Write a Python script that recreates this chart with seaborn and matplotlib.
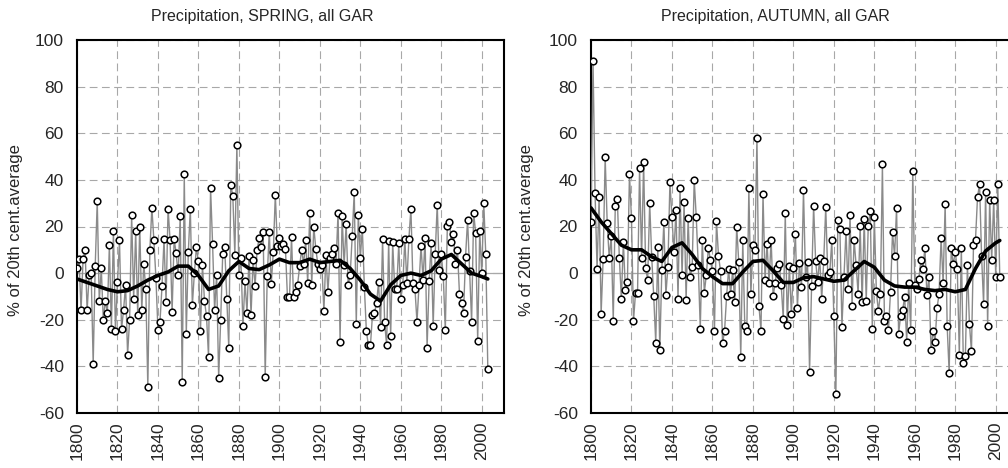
import numpy as np
import pandas as pd
import seaborn as sns
import matplotlib
matplotlib.use("Agg")
import matplotlib.pyplot as plt

# Spring precipitation, % of 20th century average, 1800-2003
spring = [2, 6, -16, 6, 10, -16, -1, 0, -39, 3, 31, -12, 2, -20, -12, -17, 12, -24, 18, -25,
          -4, 14, -24, -16, -5, -35, -20, 25, -11, 18, -18, 20, -16, 4, -7, -49, 10, 28, 14, -2,
          -24.5, -21, -5.7, 14.6, -12.4, 27.7, 14, -16.6, 14.6, 8.5, -1, 24.6, -46.7, 42.4, -26, 9,
          27.7, -13.8, 0, 11, 5, -25, 3.5, -12, -18.5, -36, 36.7, 12.4, -16, -0.7, -44.8, -20, 8,
          11, -11, -32, 38, 33, 7.8, 55, -0.7, 6.7, -22.8, -3.5, -17, 7.5, -18, 5.6,
          -5.7, 10, 15, 11, 17.8, -44.4, -1.4, 17.8, -4.5, 9, 33.7, 11.7, 15, 11.7, 12.4, 10.4,
          -10.4, -10.4, 15.6, -10.4, -8, -5, 3, 10, 4, 14, -4.3, 26, -5, 20, 10.4, 4, 1.8, 3.5,
          -16.4, 7.8, -8, 6.4, 8, 10.7, 4, 26, -29.4, 24.6, 3.3, 21,
          -5, -0.7, 16, 35, -22, 25, 6.7, 19, -6, -25, -31, -31, -18, -17, -13, -4, -23, 14.6, -21,
          -31, 13.8, -27, 13.2, -7, -6.7, 12.8, -11, -5, 14.6, -4.3, 14.6, 27.7, -4.3, -6.7, -21,
          -5.3, 11.8, -2.8, 15, -32, -3.5, 12.8, -22.8, 8, 29.4, 1.4, 8.2, -1.4, -24.6, 20.3, 22,
          13.2, 16.6, 3.8,
          10, -9, -13, -17, 7, 23, 1, -21, 26, 17, -29, 18, 0, 30, 8, -41]

# Autumn precipitation, % of 20th century average, 1800-2002
autumn = [22, 91, 34.5, 1.8, 32.6, -17.5, 6, 49.7, 21.7, 6.5, 16, -20.5, 29, 32, 6.5, -11, 13.3,
          -7.4, -3.8, 42.4, 23.5, -20.5, -8.4, -8.4, 45, 6.5, 47.5, 2.4, -3, 30, 7, -10, -30, 11,
          -33, 1.4, 22,
          -9.4, 2.8, 39, 24.2, 9, 27, -11, 36.4, -1, 30.3, -11.6, 23.5, -1.7, 2.8, 40, 24.2, 3.5,
          -23.8, 14.4, -8.4, -0.7, 10.8, 5.6, 0.7, -24.8, 22.4, 7.4, 1, -30, -24.8, -10, 1.8, -9,
          1.4, -12.6, 20, 4.9, -36, 14, -22.8, -24.8, 36.4, -9, 11.9, 9.8, 58, -14, -25, 34, -2.8,
          12.6, -4.2, 14.4, -10, -4.2, 2.4, 3.8,
          -5.2, -19.6, 25.6, -22.4, 3.2, -17.5, 2, 16.8, -15, 4.2, -6, 35.6, -1.8, 4.9, -42.4, -5.6,
          29, 5.2, -3.8, 6.6, -11.2, 5.2, 28.4, -0.7, 0.4, 14, -18.6, -52, 22.8, 19, -23, -1.8,
          18.2, -6.6, 24.8, -14, 14.4, 3.5, -8.8, 20.3, -12.6, 23.4, -12, 20.3, 26.6, -23.8, 24.2,
          -7.7, -16.4, -8.8, 46.6, -20.5, -18.6, -24.2, -8, 17.5, 7.4,
          28, -26, -18.2, -15.8, -10.2, -29.4, -4.2, -24.5, 43.6, -5.2, -6.6, -2.4, 5.6, 1.8, 10.8,
          -9.4, -1.8, -33, -24.8, -29.4, -15, -8.8, 15, -4.2, 29.8, -22.8, -43, 10.8, 3.8, 9, 1.8,
          -35, 10.8, -38.7, -35.4, 3.5, -21.7, -33.6, 11.9, 14.4, 32.6, 38.2, 7.4, -13.3, 35,
          -22.8, 31.5, 5.6, 31.5, -1.8, 38.2, -1.8]

spring_smooth_years = [1800, 1805, 1810, 1815, 1820, 1825, 1830, 1835, 1840, 1845, 1850, 1855,
                       1860, 1865, 1870, 1875, 1880, 1885, 1890, 1895, 1900, 1905, 1910, 1915,
                       1920, 1925, 1930, 1935, 1940, 1945, 1950, 1955, 1960, 1965, 1970, 1975,
                       1980, 1985, 1990, 1995, 2000, 2003]
spring_smooth = [-2.5, -4, -5.5, -7, -8, -7.5, -5.5, -3, -1, 0.5, 3, 3, -1, -7, -5.5, 1, 5, 2,
                 1.5, 3.5, 6, 4.5, 4.5, 6, 4.5, 5, 5.5, 2, -3, -9, -12, -5, -1, 0, -1, 1, 6, 8,
                 4, 0, -1.5, -2.5]
autumn_smooth_years = [1800, 1805, 1810, 1815, 1820, 1825, 1830, 1835, 1840, 1845, 1850, 1855,
                       1860, 1865, 1870, 1875, 1880, 1885, 1890, 1895, 1900, 1905, 1910, 1915,
                       1920, 1925, 1930, 1935, 1940, 1945, 1950, 1955, 1960, 1965, 1970, 1975,
                       1980, 1985, 1990, 1995, 2000, 2002]
autumn_smooth = [28, 22, 17, 12, 10, 10, 7, 5, 11, 13, 8, 2, -1.5, -4.5, -4.5, 0.5, 5, 5.5, 1,
                 -4, -4, -2, -1.5, -2.5, -3.5, -3, 1, 5, 2.5, -3, -5.5, -6, -6, -7, -7.5, -7, -8,
                 -7, 2, 9.5, 13, 14]

spring_years = list(range(1800, 1800 + len(spring)))
autumn_years = list(range(1800, 1800 + len(autumn)))

sns.set_style("white")
plt.rcParams['font.family'] = ['Liberation Sans', 'DejaVu Sans']
plt.rcParams['axes.unicode_minus'] = False

fig = plt.figure(figsize=(10.08, 4.68), dpi=100)
W, H = 1008, 468
ax1 = fig.add_axes([77 / W, 55 / H, 427 / W, 373 / H])
ax2 = fig.add_axes([591 / W, 55 / H, 427 / W, 373 / H])


def draw(ax, years, vals, sy, sv):
    ax.grid(True, linestyle=(0, (7, 4)), color='#a8a8a8', linewidth=0.8)
    ax.axhline(0, color='#a8a8a8', linewidth=0.9, zorder=1)
    sns.lineplot(x=years, y=vals, ax=ax, color='#8a8a8a', linewidth=1.0, marker='o',
                 markersize=4.8, markerfacecolor='white', markeredgecolor='black',
                 markeredgewidth=1.1, zorder=3)
    sns.lineplot(x=sy, y=sv, ax=ax, color='black', linewidth=2.6, zorder=4)
    ax.set_xlim(1800, 2011)
    ax.set_ylim(-60, 100)
    ax.set_xticks(range(1800, 2001, 20))
    ax.set_yticks(range(-60, 101, 20))
    ax.set_xlabel('')
    ax.set_ylabel('')
    ax.tick_params(axis='x', length=0, labelsize=12.5, rotation=90, pad=6)
    ax.tick_params(axis='y', direction='out', length=5, width=1, color='black',
                   labelsize=12.5, pad=4.5)
    for sp in ax.spines.values():
        sp.set_color('black')
        sp.set_linewidth(1.5)


draw(ax1, spring_years, spring, spring_smooth_years, spring_smooth)
draw(ax2, autumn_years, autumn, autumn_smooth_years, autumn_smooth)

fig.text(262 / W, 1 - 16 / H, 'Precipitation, SPRING, all GAR', ha='center', va='center',
         fontsize=11.5)
fig.text(775 / W, 1 - 16 / H, 'Precipitation, AUTUMN, all GAR', ha='center', va='center',
         fontsize=11.5)
fig.text(16 / W, 1 - 230 / H, '% of 20th cent.average', rotation=90, ha='center',
         va='center', fontsize=12)
fig.text(527 / W, 1 - 230 / H, '% of 20th cent.average', rotation=90, ha='center',
         va='center', fontsize=12)

fig.savefig('out.png', dpi=100)
